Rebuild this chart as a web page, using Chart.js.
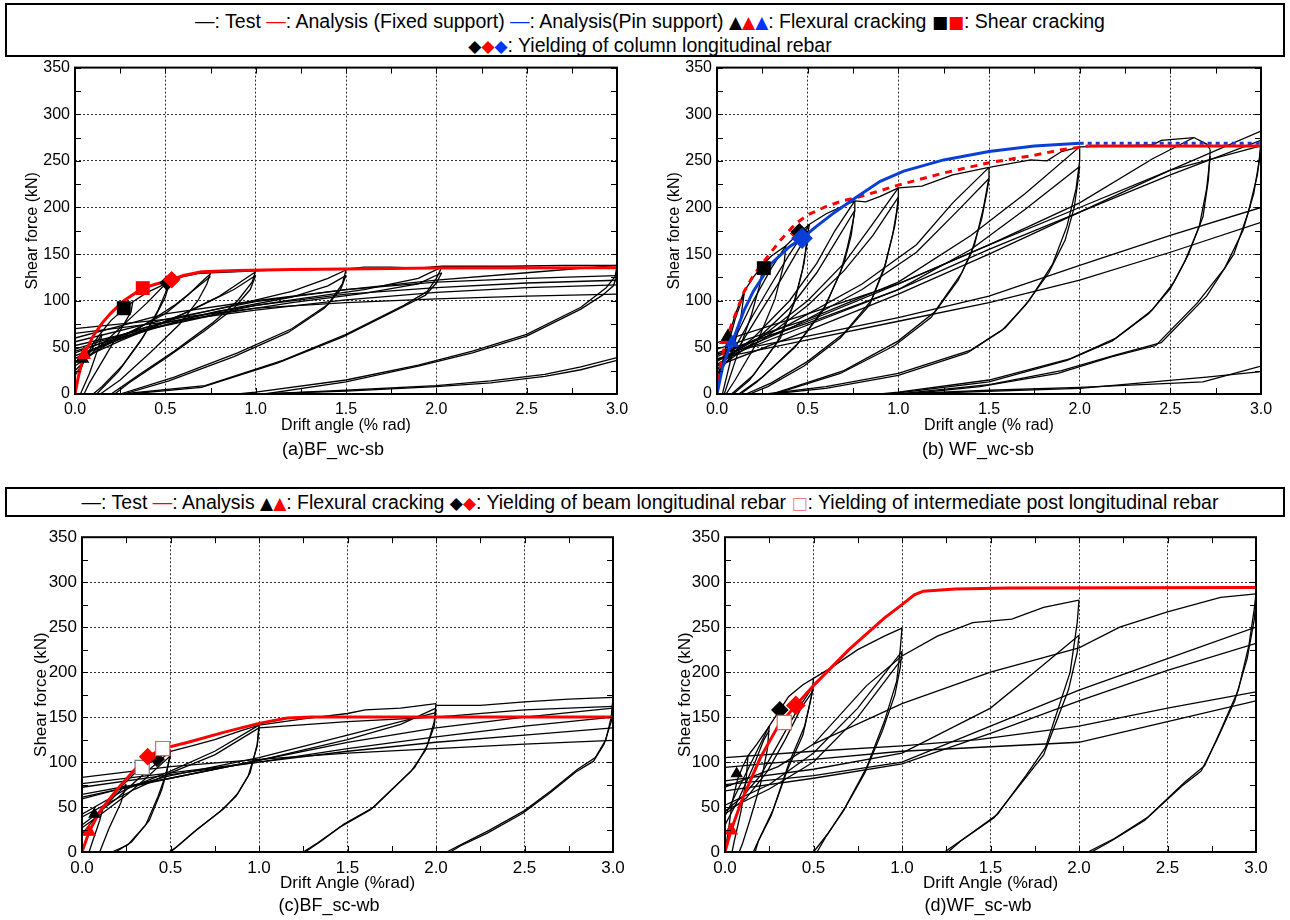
<!DOCTYPE html>
<html>
<head>
<meta charset="utf-8">
<script src="https://cdn.jsdelivr.net/npm/chart.js@4.4.1/dist/chart.umd.min.js"></script>
<style>
  body { margin: 0; background: #fff; font-family: "Liberation Sans", Arial, "DejaVu Sans", sans-serif; }
  #page { position: relative; width: 1290px; height: 920px; overflow: hidden; }
  .legend { position: absolute; left: 5px; width: 1276px; border: 2px solid #000; background: #fff; color: #000;
            font-family: "Liberation Sans", Arial, sans-serif; font-size: 19.5px; }
  .legend .row { position: absolute; left: 10px; right: 0; text-align: center; white-space: nowrap; line-height: 24px; }
  .k { color: #000; } .r { color: #ff0000; } .b { color: #0033ff; } .p { color: #f08080; }
  .sym { font-family: "DejaVu Sans", sans-serif; font-size: 17px; }
  .panel { position: absolute; }
  .caption { position: absolute; font-size: 18px; color: #000; white-space: nowrap; transform: translate(-50%, -50%); }
</style>
</head>
<body>
<div id="page">
  <div class="legend" style="top:3px;height:50px;">
    <div class="row" style="top:4px;">
      <span class="k">—</span>: Test <span class="r">—</span>: Analysis (Fixed support) <span class="b">—</span>: Analysis(Pin support)
      <span class="sym"><span class="k">▲</span><span class="r">▲</span><span class="b">▲</span></span>: Flexural cracking
      <span class="sym"><span class="k">■</span><span class="r">■</span></span>: Shear cracking
    </div>
    <div class="row" style="top:28px;">
      <span class="sym"><span class="k">◆</span><span class="r">◆</span><span class="b">◆</span></span>: Yielding of column longitudinal rebar
    </div>
  </div>
  <div class="legend" style="top:487px;height:26px;">
    <div class="row" style="top:1px;">
      <span class="k">—</span>: Test <span class="r">—</span>: Analysis
      <span class="sym"><span class="k">▲</span><span class="r">▲</span></span>: Flexural cracking
      <span class="sym"><span class="k">◆</span><span class="r">◆</span></span>: Yielding of beam longitudinal rebar
      <span class="sym p">□</span>: Yielding of intermediate post longitudinal rebar
    </div>
  </div>

  <div class="panel" id="holdA"><canvas id="chartA" width="640" height="382"></canvas></div>
  <div class="panel" id="holdB"><canvas id="chartB" width="640" height="382"></canvas></div>
  <div class="panel" id="holdC"><canvas id="chartC" width="640" height="368"></canvas></div>
  <div class="panel" id="holdD"><canvas id="chartD" width="640" height="368"></canvas></div>

  <div class="caption" style="left:333px;top:449px;">(a)BF_wc-sb</div>
  <div class="caption" style="left:978px;top:449px;">(b) WF_wc-sb</div>
  <div class="caption" style="left:329px;top:905px;">(c)BF_sc-wb</div>
  <div class="caption" style="left:978px;top:905px;">(d)WF_sc-wb</div>
</div>

<script>
// axis ticks shared by all four panels
const driftTicks = [0, 0.5, 1.0, 1.5, 2.0, 2.5, 3.0];
const forceTicks = [0, 50, 100, 150, 200, 250, 300, 350];

// ---------- (a) BF_wc-sb : test loops (positive quadrant), [drift %, shear kN]
const testA = [
  [[0,0],[0.02,20],[0.05,36],[0.1,54],[0.15,67],[0.2,79],[0.27,91],[0.32,99]],
  [[0.32,99],[0.31,88],[0.25,68],[0.16,38],[0.08,12],[0.05,0]],
  [[0,20],[0.05,35],[0.1,50],[0.15,64]],
  [[0.15,64],[0.13,50],[0.08,22],[0.03,0]],
  [[0,25],[0.1,45],[0.2,62],[0.3,80],[0.4,98],[0.48,114],[0.52,120]],
  [[0.32,99],[0.4,109],[0.5,118],[0.52,120]],
  [[0.52,120],[0.5,108],[0.46,90],[0.38,62],[0.26,30],[0.15,8],[0.1,0]],
  [[0.52,117],[0.5,104],[0.45,85],[0.36,56],[0.24,24],[0.12,0]],
  [[0,33],[0.1,48],[0.3,66],[0.5,86],[0.62,105],[0.7,120],[0.75,129]],
  [[0,30],[0.15,50],[0.35,70],[0.55,95],[0.68,115],[0.75,126]],
  [[0.52,120],[0.6,126],[0.68,129],[0.75,130]],
  [[0.75,130],[0.73,118],[0.68,100],[0.58,75],[0.42,45],[0.25,15],[0.14,0]],
  [[0,38],[0.2,56],[0.4,70],[0.6,86],[0.8,105],[0.93,122],[1.0,131]],
  [[0,35],[0.25,57],[0.5,77],[0.7,95],[0.88,112],[1.0,127]],
  [[0.75,130],[0.88,131],[1.0,132]],
  [[1.0,132],[0.98,120],[0.9,100],[0.76,76],[0.55,46],[0.35,20],[0.2,0]],
  [[1.0,127],[0.97,112],[0.88,92],[0.72,68],[0.5,38],[0.3,12],[0.22,0]],
  [[0,44],[0.3,66],[0.6,83],[0.9,96],[1.2,110],[1.4,124],[1.5,133]],
  [[0,41],[0.3,62],[0.6,80],[0.9,93],[1.2,104],[1.4,116],[1.5,127]],
  [[1.0,132],[1.25,134],[1.5,134],[1.6,136],[1.75,136],[1.9,135],[2.03,137]],
  [[1.5,133],[1.48,118],[1.4,96],[1.2,70],[0.9,44],[0.55,18],[0.25,0]],
  [[1.5,127],[1.47,112],[1.38,92],[1.18,66],[0.88,40],[0.52,14],[0.27,0]],
  [[0,48],[0.4,72],[0.8,89],[1.2,101],[1.6,112],[1.9,124],[2.03,136]],
  [[0,46],[0.4,69],[0.8,86],[1.2,98],[1.6,108],[1.9,118],[2.03,130]],
  [[2.03,136],[2.0,124],[1.95,110],[1.82,95],[1.5,64],[1.15,36],[0.72,9],[0.26,0]],
  [[2.03,130],[2.0,119],[1.94,106],[1.8,92],[1.48,61],[1.12,33],[0.7,7],[0.3,0]],
  [[0,60],[0.5,86],[1.0,100],[1.5,112],[2.0,122],[2.5,130],[3.0,138]],
  [[2.03,137],[2.4,137],[2.7,138],[3.0,138]],
  [[3.0,138],[2.99,126],[2.94,114],[2.8,93],[2.5,64],[2.2,46],[1.9,31],[1.5,15],[1.0,2],[0.9,0]],
  [[3.0,127],[2.98,116],[2.92,106],[2.8,91],[2.5,62],[2.2,44],[1.9,30],[1.5,13],[1.05,0]],
  [[0,70],[0.5,80],[1.0,92],[1.5,98],[2.0,102],[2.5,105],[3.0,107]],
  [[0,65],[0.5,77],[1.0,90],[1.5,101],[2.0,109],[2.5,114],[3.0,117]],
  [[0,52],[0.5,74],[1.0,95],[1.5,107],[2.0,114],[2.5,119],[3.0,122]],
  [[0,56],[0.5,80],[1.0,99],[1.5,112],[2.0,120],[2.5,124],[3.0,127]],
  [[1.0,0],[1.5,3],[2.0,8],[2.3,12],[2.6,19],[2.8,26],[3.0,36]],
  [[1.05,0],[1.5,4],[2.0,9],[2.3,14],[2.6,21],[2.8,29],[3.0,39]]
];
const fixedA = [[0,0],[0.02,20],[0.05,42],[0.1,62],[0.15,76],[0.2,87],[0.27,100],[0.375,113.5],[0.45,118],
  [0.535,122.5],[0.6,127],[0.7,131],[0.9,132.5],[1.2,133.5],[1.5,134],[2.0,135],[3.0,135.5]];
const flexTestA = [[0.04,38]];
const flexFixA = [[0.05,42]];
const shearTestA = [[0.27,92]];
const shearFixA = [[0.375,113.5]];
const yieldTestA = [[0.51,119]];
const yieldFixA = [[0.535,122.5]];

// ---------- (b) WF_wc-sb
const testB = [
  [[0,0],[0.02,25],[0.05,52],[0.1,85],[0.15,110],[0.2,125],[0.25,138]],
  [[0.25,138],[0.24,120],[0.19,85],[0.1,35],[0.04,0]],
  [[0,15],[0.05,45],[0.1,80],[0.15,108]],
  [[0.15,108],[0.13,80],[0.08,40],[0.03,0]],
  [[0,20],[0.1,60],[0.2,100],[0.3,135],[0.38,159]],
  [[0.25,138],[0.3,148],[0.38,159],[0.45,172],[0.51,182]],
  [[0.38,159],[0.37,140],[0.32,102],[0.22,55],[0.1,15],[0.05,0]],
  [[0,25],[0.1,50],[0.2,85],[0.3,118],[0.4,150],[0.51,182]],
  [[0,22],[0.12,50],[0.24,88],[0.36,125],[0.45,155],[0.51,175]],
  [[0.51,182],[0.5,172],[0.48,140],[0.43,100],[0.35,60],[0.2,20],[0.08,0]],
  [[0.51,175],[0.5,165],[0.47,132],[0.42,95],[0.33,55],[0.18,15],[0.09,0]],
  [[0.51,182],[0.6,193],[0.7,202],[0.76,207]],
  [[0,30],[0.2,60],[0.4,100],[0.55,140],[0.65,175],[0.76,207]],
  [[0,27],[0.2,55],[0.4,92],[0.55,130],[0.66,165],[0.76,197]],
  [[0.76,207],[0.76,198],[0.74,170],[0.7,140],[0.6,95],[0.45,55],[0.25,18],[0.12,0]],
  [[0.76,197],[0.75,185],[0.72,158],[0.68,130],[0.58,88],[0.43,50],[0.22,13],[0.13,0]],
  [[0.76,207],[0.82,206],[0.9,212],[1.0,221]],
  [[0,35],[0.25,62],[0.5,100],[0.7,140],[0.85,180],[1.0,221]],
  [[0,32],[0.25,58],[0.5,95],[0.7,132],[0.86,170],[1.0,211]],
  [[1.0,221],[1.0,205],[0.98,180],[0.93,140],[0.85,100],[0.7,65],[0.5,35],[0.3,12],[0.16,0]],
  [[1.0,211],[0.99,195],[0.97,172],[0.92,133],[0.84,95],[0.68,60],[0.48,30],[0.28,8],[0.18,0]],
  [[1.0,221],[1.13,223],[1.3,235],[1.5,243]],
  [[0,40],[0.4,75],[0.8,118],[1.1,160],[1.3,205],[1.5,243]],
  [[0,37],[0.4,70],[0.8,112],[1.1,152],[1.32,195],[1.5,231]],
  [[1.5,243],[1.5,232],[1.47,200],[1.42,160],[1.35,130],[1.2,88],[1.0,57],[0.7,25],[0.4,6],[0.3,0]],
  [[1.5,231],[1.49,218],[1.46,188],[1.4,150],[1.33,122],[1.18,82],[0.98,52],[0.68,22],[0.38,4],[0.32,0]],
  [[1.5,243],[1.73,251],[1.82,250],[1.9,260],[2.0,265]],
  [[0,48],[0.5,80],[1.0,120],[1.4,170],[1.7,215],[2.0,265]],
  [[0,44],[0.5,76],[1.0,112],[1.4,155],[1.7,198],[2.0,244]],
  [[2.0,265],[2.0,250],[1.98,220],[1.93,180],[1.85,139],[1.72,100],[1.59,71],[1.4,47],[1.0,22],[0.6,8],[0.27,0]],
  [[2.0,244],[1.99,228],[1.97,200],[1.92,165],[1.83,130],[1.7,95],[1.57,68],[1.38,44],[1.0,20],[0.6,6],[0.3,0]],
  [[2.0,265],[2.4,267],[2.45,272],[2.63,275],[2.7,268],[2.72,262]],
  [[0,55],[0.5,86],[1.0,118],[1.5,160],[2.0,205],[2.4,252],[2.63,275]],
  [[2.72,262],[2.71,230],[2.68,190],[2.6,150],[2.52,120],[2.4,90],[2.2,60],[1.95,38],[1.5,15],[1.0,2],[0.9,0]],
  [[2.72,255],[2.7,220],[2.66,180],[2.58,142],[2.5,113],[2.38,86],[2.18,57],[1.93,36],[1.5,13],[0.95,0]],
  [[0,30],[0.5,68],[1.0,107],[1.5,150],[2.0,195],[2.5,240],[3.0,282]],
  [[0,36],[0.5,74],[1.0,112],[1.5,155],[2.0,195],[2.5,235],[3.0,272]],
  [[0,42],[0.5,78],[1.0,118],[1.5,160],[2.0,200],[2.5,240],[3.0,266]],
  [[0,43],[0.5,62],[1.0,82],[1.5,105],[2.0,138],[2.5,170],[3.0,200]],
  [[0,38],[0.5,58],[1.0,78],[1.5,98],[2.0,122],[2.5,152],[3.0,184]],
  [[3.0,282],[3.0,265],[2.98,235],[2.93,195],[2.85,150],[2.7,105],[2.45,55],[2.2,42],[1.9,25],[1.5,10],[1.0,0]],
  [[3.0,272],[2.99,250],[2.96,215],[2.9,175],[2.8,135],[2.65,98],[2.42,52],[2.18,40],[1.88,22],[1.45,8],[1.05,0]],
  [[1.0,0],[1.5,4],[2.0,7],[2.68,13],[3.0,30]],
  [[1.05,0],[2.0,6],[2.7,18],[3.0,24]]
];
const fixedB = [[0,0],[0.02,32],[0.05,58],[0.083,76],[0.15,110],[0.2,127],[0.258,142],[0.35,165],[0.43,182],
  [0.5,192],[0.6,201],[0.69,207],[0.76,210],[0.9,218],[1.0,224],[1.25,237],[1.5,248],[1.75,256],[1.9,262],[2.05,266]];
const fixedBPeak = [[2.05,266],[3.0,266]];
const pinB = [[0,0],[0.03,28],[0.06,45],[0.083,55],[0.15,90],[0.2,110],[0.3,140],[0.4,158],[0.469,167],
  [0.55,180],[0.65,195],[0.76,210],[0.9,228],[1.03,239],[1.25,251],[1.5,260],[1.75,266],[2.0,269]];
const pinBPeak = [[2.0,269],[3.0,269]];
const flexTestB = [[0.06,61.5]];
const flexFixB = [[0.05,58]];
const flexPinB = [[0.083,55]];
const shearTestB = [[0.258,135]];
const yieldTestB = [[0.454,174]];
const yieldFixB = [[0.45,172]];
const yieldPinB = [[0.469,167]];

// ---------- (c) BF_sc-wb
const testC = [
  [[0,0],[0.03,18],[0.07,35],[0.12,50],[0.2,68],[0.3,88],[0.4,102],[0.5,112]],
  [[0.12,50],[0.1,35],[0.06,12],[0.04,0]],
  [[0,20],[0.05,32],[0.1,45],[0.2,65],[0.25,75]],
  [[0.25,75],[0.22,55],[0.15,25],[0.1,0]],
  [[0,30],[0.1,45],[0.2,60],[0.3,78],[0.4,95],[0.5,112]],
  [[0,27],[0.12,44],[0.25,63],[0.35,80],[0.45,98],[0.5,107]],
  [[0.5,112],[0.48,90],[0.45,69],[0.38,35],[0.28,11],[0.19,0]],
  [[0.5,107],[0.47,84],[0.43,62],[0.36,30],[0.26,8],[0.17,0]],
  [[0.5,112],[0.62,118],[0.75,125],[0.9,135],[1.0,141]],
  [[0,42],[0.25,70],[0.5,90],[0.75,112],[1.0,141]],
  [[0,39],[0.3,70],[0.5,88],[0.75,108],[1.0,138]],
  [[1.0,141],[0.99,120],[0.95,88],[0.88,65],[0.8,48],[0.65,25],[0.55,8],[0.5,0]],
  [[1.0,138],[0.99,118],[0.94,85],[0.87,62],[0.78,45],[0.63,22],[0.53,5],[0.49,0]],
  [[1.0,141],[1.25,148],[1.5,154],[1.6,158],[1.8,160],[2.0,165]],
  [[0,59],[0.5,85],[1.0,105],[1.5,130],[1.8,145],[2.0,155]],
  [[0,61],[0.5,82],[1.0,102],[1.5,125],[1.8,142],[2.0,160]],
  [[2.0,165],[1.99,145],[1.95,118],[1.88,94],[1.65,50],[1.48,31],[1.35,12],[1.26,0]],
  [[2.0,158],[1.99,140],[1.94,113],[1.86,90],[1.63,47],[1.46,28],[1.33,10],[1.25,0]],
  [[2.0,163],[2.25,163],[2.5,167],[2.75,170],[3.0,172]],
  [[0,83],[0.5,95],[1.0,103],[1.5,110],[2.0,115],[2.5,120],[3.0,124]],
  [[0,76],[0.5,88],[1.0,100],[1.5,112],[2.0,122],[2.5,130],[3.0,138]],
  [[0,72],[0.5,86],[1.0,100],[1.5,115],[2.0,128],[2.5,140],[3.0,150]],
  [[0,64],[0.5,82],[1.0,102],[1.5,122],[2.0,138],[2.5,150],[3.0,160]],
  [[1.0,138],[1.5,145],[2.0,150],[2.5,158],[3.0,162]],
  [[3.0,172],[2.99,150],[2.96,125],[2.9,105],[2.8,92],[2.65,68],[2.5,46],[2.3,24],[2.15,9],[2.06,0]],
  [[3.0,165],[2.99,145],[2.95,120],[2.89,101],[2.79,89],[2.64,65],[2.49,43],[2.29,21],[2.14,7],[2.08,0]]
];
const fixedC = [[0,0],[0.04,22.5],[0.1,45],[0.2,70],[0.3,92],[0.371,106],[0.456,115],[0.6,122],[0.8,133],
  [1.0,143],[1.16,149],[1.3,150],[3.0,150]];
const flexTestC = [[0.07,42]];
const flexFixC = [[0.04,22.5]];
const yieldTestC = [[0.424,103]];
const yieldFixC = [[0.371,106]];
const postTestC = [[0.34,94]];
const postFixC = [[0.456,115]];

// ---------- (d) WF_sc-wb
const testD = [
  [[0,0],[0.02,25],[0.04,55],[0.07,80],[0.1,95],[0.13,107]],
  [[0.13,107],[0.12,82],[0.09,45],[0.05,10],[0.04,0]],
  [[0,40],[0.05,60],[0.1,80],[0.15,100],[0.2,120],[0.25,140]],
  [[0,30],[0.08,60],[0.16,95],[0.22,125],[0.25,135]],
  [[0.13,107],[0.18,120],[0.25,140],[0.36,173],[0.44,186],[0.5,193]],
  [[0.25,140],[0.24,115],[0.2,75],[0.14,35],[0.1,10],[0.08,0]],
  [[0,45],[0.1,62],[0.2,85],[0.3,120],[0.4,155],[0.5,185]],
  [[0,42],[0.12,60],[0.24,90],[0.34,125],[0.43,160],[0.5,180]],
  [[0.5,193],[0.49,175],[0.45,140],[0.36,98],[0.27,46],[0.19,13],[0.17,0]],
  [[0.5,185],[0.48,165],[0.44,130],[0.35,90],[0.26,40],[0.18,9],[0.16,0]],
  [[0.5,193],[0.6,205],[0.75,225],[0.9,240],[1.0,249]],
  [[0,52],[0.25,75],[0.5,110],[0.75,160],[1.0,223]],
  [[0,46],[0.25,70],[0.5,100],[0.75,150],[1.0,215]],
  [[1.0,249],[0.99,225],[0.97,190],[0.9,145],[0.8,94],[0.68,50],[0.58,20],[0.5,0]],
  [[1.0,223],[0.99,205],[0.96,175],[0.89,135],[0.79,88],[0.67,46],[0.57,17],[0.52,0]],
  [[0,72],[0.3,95],[0.5,120],[0.8,185],[1.0,218],[1.2,240],[1.4,255],[1.62,259],[1.8,272],[2.0,280]],
  [[0,79],[0.5,92],[1.0,110],[1.5,160],[1.75,200],[2.0,241]],
  [[2.0,280],[1.99,255],[1.95,200],[1.81,116],[1.7,85],[1.54,42],[1.35,15],[1.24,0]],
  [[2.0,241],[1.99,222],[1.94,180],[1.8,108],[1.68,78],[1.52,38],[1.33,12],[1.26,0]],
  [[0.5,120],[1.0,165],[1.5,200],[2.0,227],[2.23,250],[2.5,267],[2.8,283],[3.0,287]],
  [[0,105],[0.5,112],[1.0,118],[1.43,125],[2.0,140],[2.5,160],[3.0,178]],
  [[0,94],[0.5,103],[1.0,112],[1.5,117],[2.0,122],[2.5,145],[3.0,168]],
  [[0,75],[0.5,85],[1.0,100],[1.5,140],[2.0,180],[2.5,215],[3.0,250]],
  [[0,68],[0.5,82],[1.0,98],[1.5,132],[2.0,168],[2.5,202],[3.0,232]],
  [[3.0,287],[2.99,270],[2.96,230],[2.9,180],[2.8,135],[2.71,96],[2.6,78],[2.39,39],[2.2,15],[2.05,0]],
  [[3.0,278],[2.99,258],[2.95,215],[2.88,168],[2.78,125],[2.69,90],[2.58,73],[2.37,35],[2.18,12],[2.07,0]]
];
const fixedD = [[0,0],[0.034,24],[0.1,60],[0.2,105],[0.3,140],[0.4,163],[0.5,185],[0.7,225],[0.9,260],
  [1.0,275],[1.07,286],[1.12,290],[1.3,292.5],[1.6,293.5],[3.0,294]];
const flexTestD = [[0.066,87]];
const flexFixD = [[0.034,24]];
const yieldTestD = [[0.31,158]];
const yieldFixD = [[0.4,163]];
const postFixD = [[0.335,144]];

const RED = '#ff0000';
const BLUE = '#0a3fd6';

const toXY = pts => pts.map(([x, y]) => ({ x, y }));

function loops(polylines) {
  return polylines.map(p => ({
    data: toXY(p), showLine: true, borderColor: '#000', borderWidth: 1.3,
    pointRadius: 0, order: 5
  }));
}

function curve(pts, color, dash) {
  return {
    data: toXY(pts), showLine: true, borderColor: color, borderWidth: 3,
    borderDash: dash || [], pointRadius: 0, order: 3
  };
}

function marker(pts, style, fill, edge, radius, order) {
  return {
    data: toXY(pts), showLine: false, pointStyle: style, pointRadius: radius,
    backgroundColor: fill, borderColor: edge, pointBorderWidth: 1.2, order: order
  };
}

// frame with inward minor/major ticks on all four sides
const framePlugin = {
  id: 'frame',
  afterDraw(chart) {
    const { ctx, chartArea: a, scales } = chart;
    const xs = scales.x, ys = scales.y;
    ctx.save();
    ctx.strokeStyle = '#000';
    ctx.lineWidth = 1;
    ctx.beginPath();
    for (let v = 0; v <= 3.0001; v += 0.25) {
      const px = Math.round(xs.getPixelForValue(v)) + 0.5;
      ctx.moveTo(px, a.bottom); ctx.lineTo(px, a.bottom - 6);
      ctx.moveTo(px, a.top); ctx.lineTo(px, a.top + 6);
    }
    for (let v = 0; v <= 350; v += 25) {
      const py = Math.round(ys.getPixelForValue(v)) + 0.5;
      ctx.moveTo(a.left, py); ctx.lineTo(a.left + 6, py);
      ctx.moveTo(a.right, py); ctx.lineTo(a.right - 6, py);
    }
    ctx.stroke();
    ctx.lineWidth = 2;
    ctx.strokeRect(a.left, a.top, a.right - a.left, a.bottom - a.top);
    ctx.restore();
  }
};

function makeChart(id, datasets, geo) {
  const font = { family: '"Liberation Sans", Arial, sans-serif', size: geo.fontSize };
  return new Chart(document.getElementById(id), {
    type: 'scatter',
    data: { datasets },
    plugins: [framePlugin],
    options: {
      responsive: false,
      maintainAspectRatio: false,
      animation: false,
      events: [],
      devicePixelRatio: 1,
      layout: { padding: { top: 10, right: 20, bottom: 0, left: 0 } },
      plugins: { legend: { display: false }, tooltip: { enabled: false } },
      scales: {
        x: {
          type: 'linear', min: 0, max: 3,
          afterBuildTicks: s => { s.ticks = driftTicks.map(v => ({ value: v })); },
          afterFit: s => { s.height = geo.xHeight; },
          ticks: { color: '#000', font, padding: 6, maxRotation: 0, callback: v => v.toFixed(1) },
          grid: { color: '#333', lineWidth: 1, drawTicks: false },
          border: { display: false, dash: [2, 2] },
          title: { display: true, text: geo.xTitle, color: '#000', font, padding: { top: 0, bottom: geo.xTitlePad } }
        },
        y: {
          type: 'linear', min: 0, max: 350,
          afterBuildTicks: s => { s.ticks = forceTicks.map(v => ({ value: v })); },
          afterFit: s => { s.width = geo.yWidth; },
          ticks: { color: '#000', font, padding: 5 },
          grid: { color: '#333', lineWidth: 1, drawTicks: false },
          border: { display: false, dash: [2, 2] },
          title: { display: true, text: 'Shear force (kN)', color: '#000', font, padding: { top: geo.yTitlePad, bottom: 0 } }
        }
      }
    }
  });
}

// size the canvas so the plot area fills the given frame, then move it there
function place(chart, holderId, box) {
  for (let i = 0; i < 3; i++) {
    const a = chart.chartArea;
    const w = Math.round(chart.width + (box.right - box.left) - (a.right - a.left));
    const h = Math.round(chart.height + (box.bottom - box.top) - (a.bottom - a.top));
    chart.resize(w, h);
  }
  const a = chart.chartArea;
  const holder = document.getElementById(holderId);
  holder.style.left = (box.left - a.left) + 'px';
  holder.style.top = (box.top - a.top) + 'px';
}

const chartA = makeChart('chartA', [
  marker(yieldFixA, 'rectRot', RED, RED, 8, 0),
  marker(shearFixA, 'rect', RED, RED, 9, 0),
  marker(flexFixA, 'triangle', RED, RED, 7, 0),
  marker(yieldTestA, 'rectRot', '#000', '#000', 7, 1),
  marker(shearTestA, 'rect', '#000', '#000', 9, 1),
  marker(flexTestA, 'triangle', '#000', '#000', 7, 1),
  curve(fixedA, RED),
  ...loops(testA)
], { fontSize: 16, xHeight: 46, yWidth: 75, xTitle: 'Drift angle (% rad)', xTitlePad: 5, yTitlePad: 23 });
place(chartA, 'holdA', { left: 75, right: 617, top: 68, bottom: 394 });

const chartB = makeChart('chartB', [
  marker(yieldPinB, 'rectRot', BLUE, BLUE, 10, 0),
  marker(flexPinB, 'triangle', BLUE, BLUE, 7, 0),
  marker(shearTestB, 'rect', '#000', '#000', 9, 1),
  marker(yieldTestB, 'rectRot', '#000', '#000', 8, 1),
  marker(flexTestB, 'triangle', '#000', '#000', 7, 1),
  marker(yieldFixB, 'rectRot', RED, RED, 8, 2),
  marker(flexFixB, 'triangle', RED, RED, 7, 2),
  curve(pinB, BLUE),
  curve(fixedBPeak, RED),
  curve(pinBPeak, BLUE, [4, 4]),
  curve(fixedB, RED, [7, 6]),
  ...loops(testB)
], { fontSize: 16, xHeight: 46, yWidth: 77, xTitle: 'Drift angle (% rad)', xTitlePad: 5, yTitlePad: 25 });
place(chartB, 'holdB', { left: 717, right: 1261, top: 68, bottom: 394 });

const chartC = makeChart('chartC', [
  marker(postFixC, 'rect', '#fff', '#f06060', 10, 0),
  marker(yieldFixC, 'rectRot', RED, RED, 8, 0),
  marker(flexFixC, 'triangle', RED, RED, 7, 0),
  marker(yieldTestC, 'rectRot', '#000', '#000', 7, 1),
  marker(postTestC, 'rect', '#fff', '#777', 10, 1),
  marker(flexTestC, 'triangle', '#000', '#000', 6, 1),
  curve(fixedC, RED),
  ...loops(testC)
], { fontSize: 17, xHeight: 45, yWidth: 82, xTitle: 'Drift Angle (%rad)', xTitlePad: 3, yTitlePad: 31 });
place(chartC, 'holdC', { left: 82, right: 613, top: 537, bottom: 852 });

const chartD = makeChart('chartD', [
  marker(postFixD, 'rect', '#fff', '#f06060', 10, 0),
  marker(yieldFixD, 'rectRot', RED, RED, 9, 0),
  marker(flexFixD, 'triangle', RED, RED, 7, 0),
  marker(yieldTestD, 'rectRot', '#000', '#000', 8, 1),
  marker(flexTestD, 'triangle', '#000', '#000', 6, 1),
  curve(fixedD, RED),
  ...loops(testD)
], { fontSize: 17, xHeight: 45, yWidth: 85, xTitle: 'Drift Angle (%rad)', xTitlePad: 3, yTitlePad: 35 });
place(chartD, 'holdD', { left: 725, right: 1256, top: 537, bottom: 852 });
</script>
</body>
</html>
